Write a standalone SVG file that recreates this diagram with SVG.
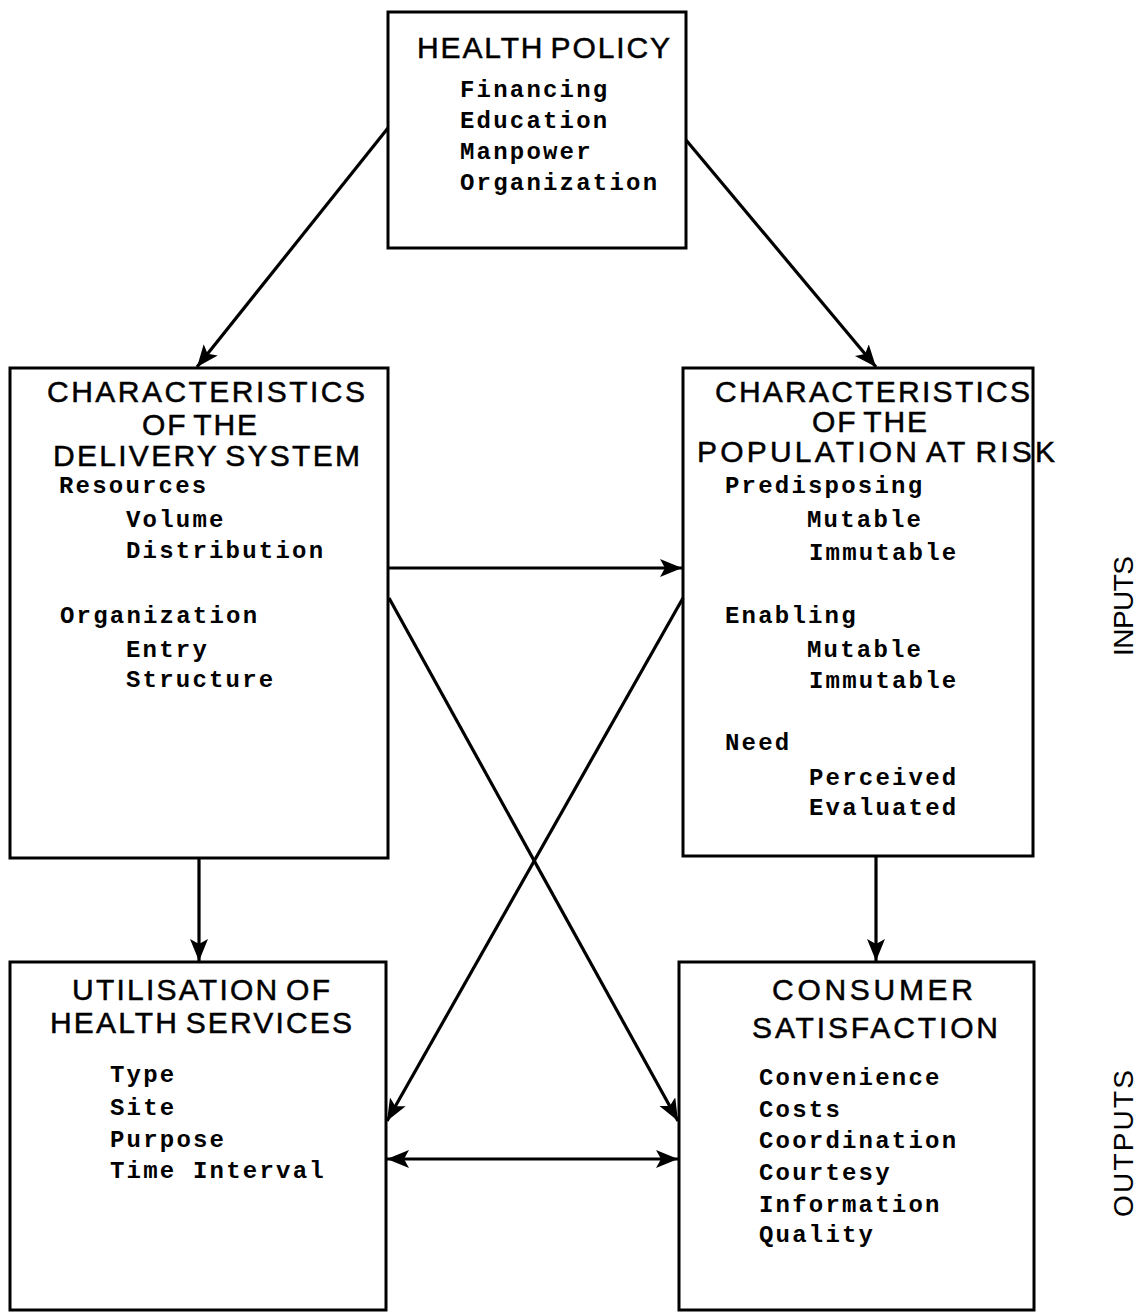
<svg xmlns="http://www.w3.org/2000/svg" width="1139" height="1312" viewBox="0 0 1139 1312">
  <style>
    .box { fill: none; stroke: #000; stroke-width: 3; }
    .head { font-family: "Liberation Sans", Arial, sans-serif; font-size: 30px; fill: #000; stroke: #000; stroke-width: 0.5px; word-spacing: -4px; }
    .item { font-family: "Liberation Mono", "Courier New", monospace; font-weight: bold; font-size: 24px; letter-spacing: 2.2px; fill: #000; }
    .side { font-family: "Liberation Sans", Arial, sans-serif; font-size: 28px; fill: #000; }
    .conn { stroke: #000; stroke-width: 3.2; fill: none; }
    .arrow { marker-end: url(#head); }
    .both { marker-start: url(#head); marker-end: url(#head); }
  </style>
  <defs>
    <marker id="head" markerUnits="userSpaceOnUse" markerWidth="24" markerHeight="20" refX="22" refY="9" orient="auto-start-reverse">
      <path d="M0,0 L22,9 L0,18 L5,9 z" fill="#000"/>
    </marker>
  </defs>
  <rect width="1139" height="1312" fill="#fff"/>

  <!-- connectors -->
  <g id="connectors">
    <line class="conn arrow" x1="388" y1="128" x2="197" y2="367"/>
    <line class="conn arrow" x1="686" y1="140" x2="876" y2="367"/>
    <line class="conn arrow" x1="389" y1="568" x2="682" y2="568"/>
    <line class="conn arrow" x1="389" y1="598" x2="678" y2="1121"/>
    <line class="conn arrow" x1="683" y1="598" x2="387" y2="1121"/>
    <line class="conn arrow" x1="199" y1="858" x2="199" y2="961"/>
    <line class="conn arrow" x1="876" y1="856" x2="876" y2="961"/>
    <line class="conn both" x1="387" y1="1159" x2="678" y2="1159"/>
  </g>

  <!-- health policy -->
  <g id="health-policy">
    <rect class="box" x="388" y="12" width="298" height="236"/>
    <text class="head" x="417" y="58" textLength="253" lengthAdjust="spacing">HEALTH POLICY</text>
    <text class="item" x="460" y="97">Financing</text>
    <text class="item" x="460" y="128">Education</text>
    <text class="item" x="460" y="159">Manpower</text>
    <text class="item" x="460" y="190">Organization</text>
  </g>

  <!-- delivery system -->
  <g id="delivery-system">
    <rect class="box" x="10" y="368" width="378" height="490"/>
    <text class="head" x="47" y="402" textLength="318" lengthAdjust="spacing">CHARACTERISTICS</text>
    <text class="head" x="142" y="435" textLength="115" lengthAdjust="spacing">OF THE</text>
    <text class="head" x="53" y="466" textLength="307" lengthAdjust="spacing">DELIVERY SYSTEM</text>
    <text class="item" x="59" y="493">Resources</text>
    <text class="item" x="126" y="527">Volume</text>
    <text class="item" x="126" y="558">Distribution</text>
    <text class="item" x="60" y="623">Organization</text>
    <text class="item" x="126" y="657">Entry</text>
    <text class="item" x="126" y="687">Structure</text>
  </g>

  <!-- population at risk -->
  <g id="population-at-risk">
    <rect class="box" x="683" y="368" width="350" height="488"/>
    <text class="head" x="715" y="402" textLength="315" lengthAdjust="spacing">CHARACTERISTICS</text>
    <text class="head" x="812" y="432" textLength="115" lengthAdjust="spacing">OF THE</text>
    <text class="head" x="697" y="462" textLength="358" lengthAdjust="spacing">POPULATION AT RISK</text>
    <text class="item" x="725" y="493">Predisposing</text>
    <text class="item" x="807" y="527">Mutable</text>
    <text class="item" x="809" y="560">Immutable</text>
    <text class="item" x="725" y="623">Enabling</text>
    <text class="item" x="807" y="657">Mutable</text>
    <text class="item" x="809" y="688">Immutable</text>
    <text class="item" x="725" y="750">Need</text>
    <text class="item" x="809" y="785">Perceived</text>
    <text class="item" x="809" y="815">Evaluated</text>
  </g>

  <!-- utilisation -->
  <g id="utilisation">
    <rect class="box" x="10" y="962" width="376" height="348"/>
    <text class="head" x="72" y="1000" textLength="258" lengthAdjust="spacing">UTILISATION OF</text>
    <text class="head" x="50" y="1033" textLength="302" lengthAdjust="spacing">HEALTH SERVICES</text>
    <text class="item" x="110" y="1082">Type</text>
    <text class="item" x="110" y="1115">Site</text>
    <text class="item" x="110" y="1147">Purpose</text>
    <text class="item" x="110" y="1178">Time Interval</text>
  </g>

  <!-- consumer satisfaction -->
  <g id="consumer-satisfaction">
    <rect class="box" x="679" y="962" width="355" height="348"/>
    <text class="head" x="772" y="1000" textLength="201" lengthAdjust="spacing">CONSUMER</text>
    <text class="head" x="752" y="1038" textLength="246" lengthAdjust="spacing">SATISFACTION</text>
    <text class="item" x="759" y="1085">Convenience</text>
    <text class="item" x="759" y="1117">Costs</text>
    <text class="item" x="759" y="1148">Coordination</text>
    <text class="item" x="759" y="1180">Courtesy</text>
    <text class="item" x="759" y="1212">Information</text>
    <text class="item" x="759" y="1242">Quality</text>
  </g>

  <!-- side labels -->
  <g id="side-labels">
    <text class="side" transform="translate(1133,656) rotate(-90)" textLength="100" lengthAdjust="spacing">INPUTS</text>
    <text class="side" transform="translate(1133,1217) rotate(-90)" textLength="147" lengthAdjust="spacing">OUTPUTS</text>
  </g>
</svg>
